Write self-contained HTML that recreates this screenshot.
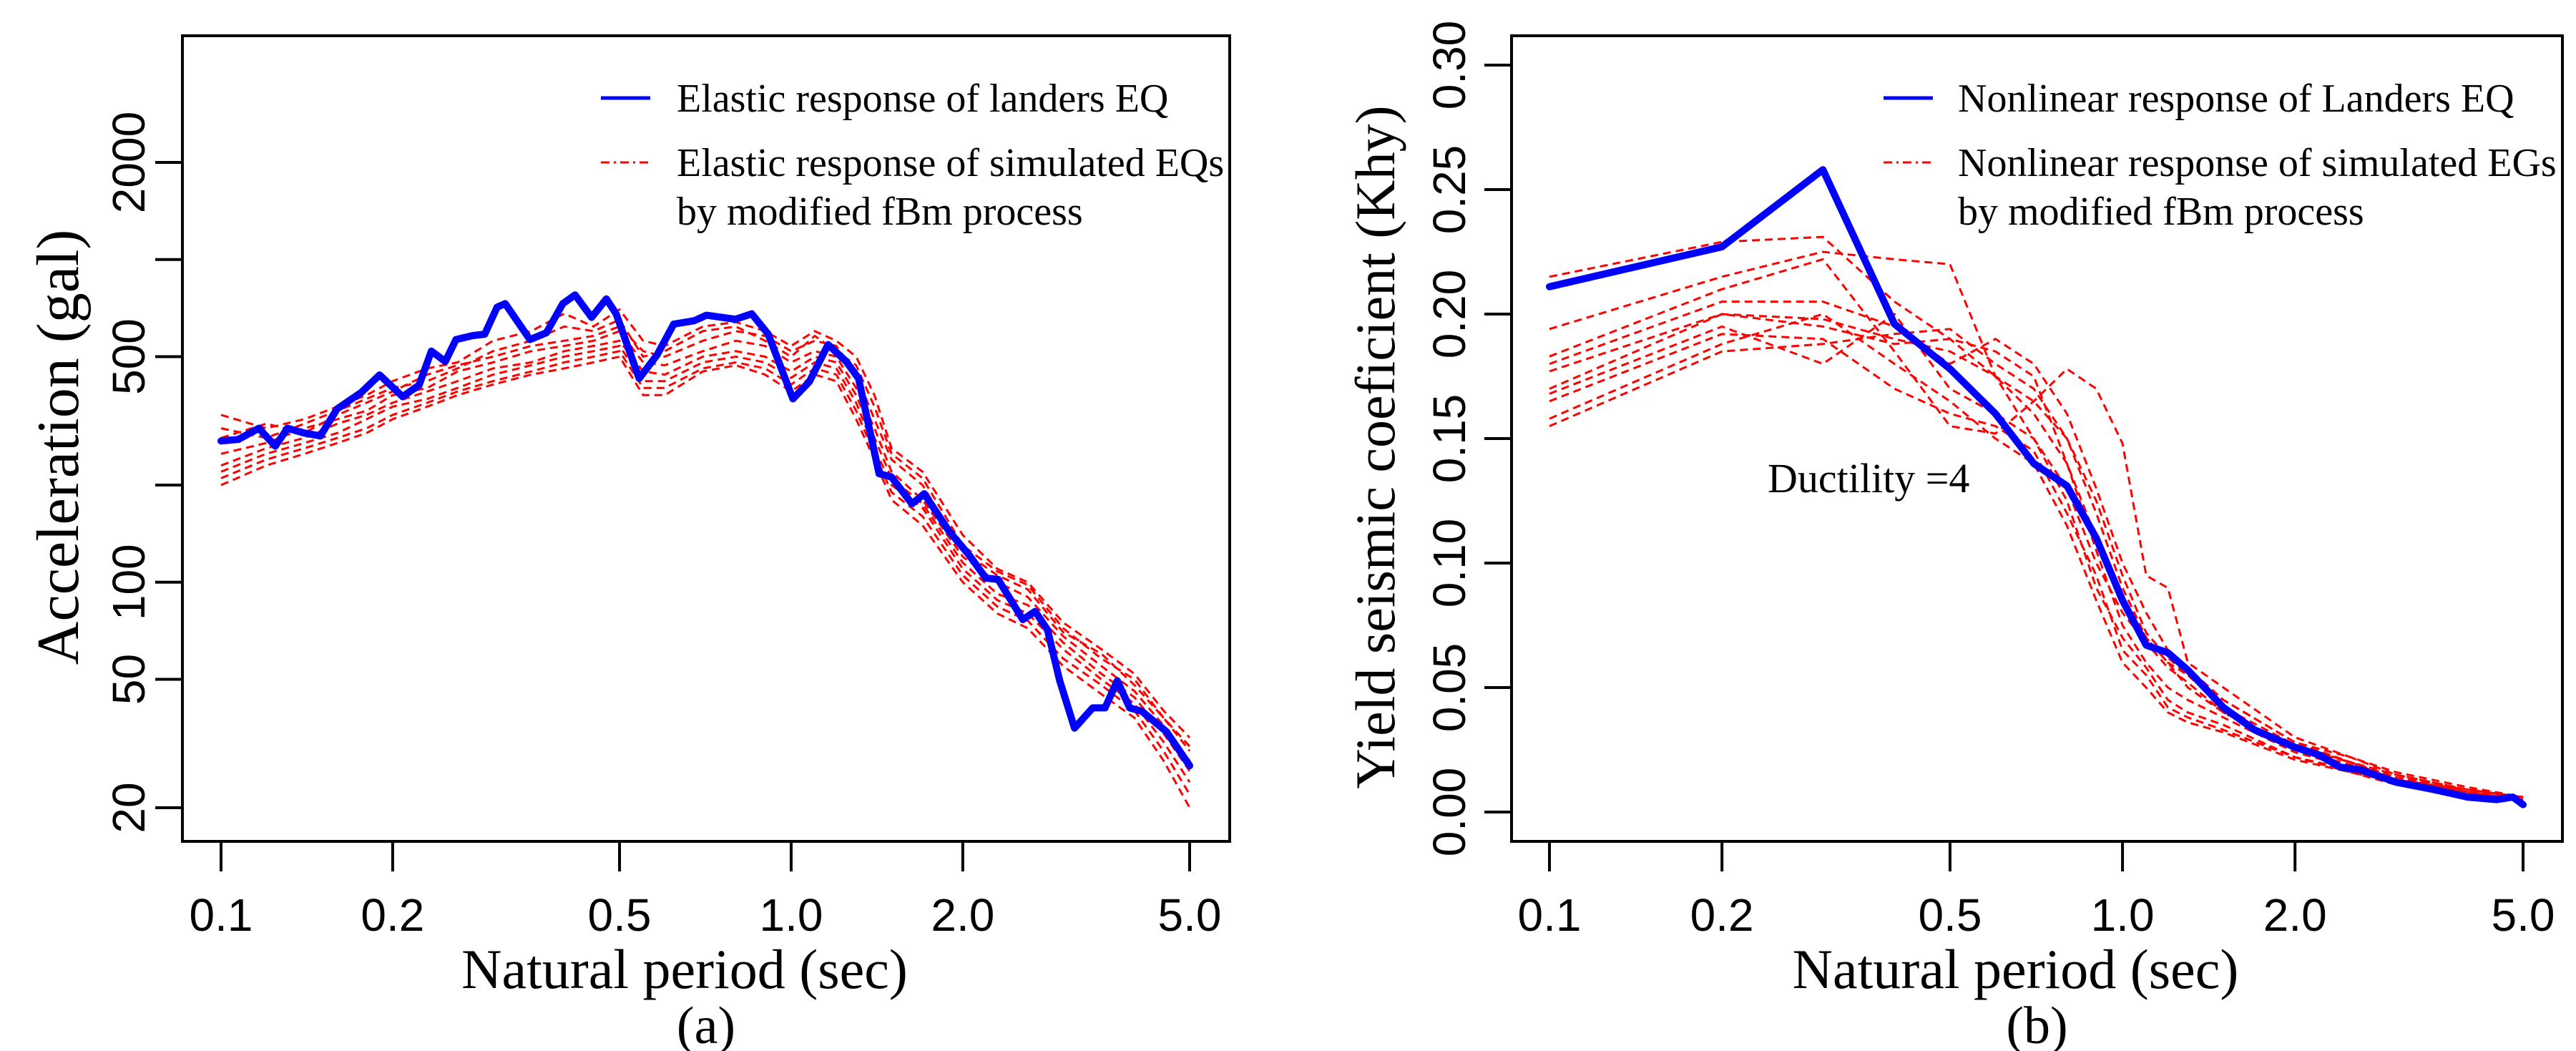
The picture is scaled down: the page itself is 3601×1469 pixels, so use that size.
<!DOCTYPE html>
<html><head><meta charset="utf-8"><style>
html,body{margin:0;padding:0;background:#fff;}
svg{display:block;}
text{fill:#000;}
</style></head>
<body>
<svg id="fig" width="3601" height="1469" viewBox="0 0 3601 1469" xmlns="http://www.w3.org/2000/svg">
<rect x="0" y="0" width="3601" height="1469" fill="#fff"/>
<g id="pa"></g>
<g id="pb"></g>
</svg>
<script>
// ---------- Panel (a) data ----------
const xTicks = [0.1, 0.2, 0.5, 1.0, 2.0, 5.0];
const xTickLabels = ["0.1", "0.2", "0.5", "1.0", "2.0", "5.0"];
const aYTicks = [20, 50, 100, 200, 500, 1000, 2000];
const aYTickLabels = ["20", "50", "100", "", "500", "", "2000"];
const aBluePeriod = [0.100,0.1072,0.1165,0.1245,0.1308,0.1398,0.1494,0.1597,0.1764,0.1897,0.2082,0.2225,0.2338,0.2474,0.2583,0.2760,0.2901,0.3049,0.3151,0.3482,0.3721,0.3976,0.4178,0.4467,0.4741,0.4932,0.5412,0.5822,0.6224,0.6760,0.7104,0.7980,0.8529,0.9115,1.007,1.076,1.161,1.249,1.313,1.426,1.499,1.629,1.712,1.891,2.055,2.195,2.307,2.549,2.679,2.816,2.959,3.141,3.380,3.552,3.733,3.925,4.124,4.555,5.0];
const aBlueAccel = [274,277,300,264,300,290,284,344,388,439,376,408,520,483,565,581,587,712,730,565,593,730,777,662,755,679,428,507,631,646,672,653,679,587,370,418,545,483,428,217,212,175,188,144,121,103,102,76.6,81.2,71.2,49.5,35.3,40.8,40.8,49.5,40.8,39.8,34.4,27.0];
const aRedPeriod = [0.1,0.12,0.14,0.16,0.18,0.2,0.23,0.26,0.3,0.35,0.4,0.45,0.5,0.55,0.6,0.7,0.8,0.9,1.0,1.1,1.2,1.3,1.4,1.5,1.7,2.0,2.3,2.6,3.0,3.5,4.0,4.5,5.0];
const aRed1 = [330,300,320,350,380,420,460,480,560,600,680,620,700,560,540,620,640,600,540,600,560,500,380,260,220,140,110,100,75,62,52,40,33];
const aRed2 = [280,310,290,330,360,390,440,470,500,540,560,580,620,520,500,560,600,580,520,560,540,440,320,240,200,125,105,95,70,60,48,38,30];
const aRed3 = [250,270,300,320,340,380,400,450,480,520,540,560,600,480,470,520,560,540,480,520,500,400,300,220,180,120,100,90,68,55,46,36,28];
const aRed4 = [230,260,280,310,330,360,390,420,460,480,520,540,560,450,440,500,520,500,450,500,480,380,280,210,175,115,92,85,65,52,44,34,26];
const aRed5 = [220,250,270,290,320,350,370,400,440,470,500,520,540,420,420,480,500,480,430,480,460,360,260,200,170,110,88,80,62,50,42,32,24];
const aRed6 = [210,240,260,280,300,330,360,390,420,450,480,500,520,400,400,460,480,460,410,460,440,340,250,190,160,105,84,76,58,48,40,30,22];
const aRed7 = [200,230,250,270,290,320,350,380,410,440,460,480,500,380,380,450,470,440,390,440,420,320,240,180,150,100,80,72,55,45,38,28,20];
const aRed8 = [300,280,310,340,370,400,420,460,520,560,620,600,650,500,520,600,620,560,500,580,520,470,350,250,210,130,108,98,72,58,50,38,31];

// ---------- Panel (b) data ----------
const bYTicks = [0.00, 0.05, 0.10, 0.15, 0.20, 0.25, 0.30];
const bYTickLabels = ["0.00", "0.05", "0.10", "0.15", "0.20", "0.25", "0.30"];
const bBluePeriod = [0.1,0.2,0.3,0.4,0.5,0.6,0.7,0.8,0.9,1.0,1.1,1.2,1.3,1.5,1.7,2.0,2.2,2.4,2.6,3.0,3.5,4.0,4.5,4.8,5.0];
const bBlueK = [0.211,0.227,0.258,0.196,0.178,0.160,0.140,0.131,0.110,0.085,0.067,0.064,0.057,0.042,0.033,0.026,0.023,0.018,0.017,0.012,0.009,0.006,0.005,0.006,0.003];
const bRedPeriod = [0.1,0.2,0.3,0.4,0.5,0.6,0.7,0.8,0.9,1.0,1.1,1.2,1.3,1.5,2.0,2.5,3.0,4.0,5.0];
const bRed1 = [0.215,0.229,0.231,0.205,0.190,0.175,0.160,0.140,0.110,0.085,0.070,0.060,0.055,0.045,0.028,0.020,0.014,0.009,0.006];
const bRed2 = [0.194,0.215,0.225,0.222,0.220,0.175,0.150,0.130,0.100,0.080,0.068,0.058,0.052,0.040,0.026,0.020,0.013,0.008,0.005];
const bRed3 = [0.183,0.210,0.222,0.185,0.155,0.152,0.165,0.178,0.170,0.148,0.095,0.090,0.060,0.050,0.030,0.022,0.016,0.010,0.006];
const bRed4 = [0.180,0.205,0.205,0.195,0.180,0.190,0.180,0.160,0.130,0.100,0.080,0.065,0.058,0.045,0.028,0.022,0.015,0.009,0.006];
const bRed5 = [0.177,0.200,0.198,0.190,0.185,0.175,0.165,0.150,0.120,0.090,0.070,0.060,0.050,0.040,0.025,0.019,0.014,0.008,0.005];
const bRed6 = [0.170,0.200,0.195,0.188,0.190,0.185,0.175,0.140,0.105,0.075,0.060,0.050,0.045,0.038,0.024,0.018,0.013,0.009,0.006];
const bRed7 = [0.168,0.195,0.180,0.200,0.170,0.160,0.150,0.125,0.090,0.070,0.058,0.045,0.040,0.035,0.022,0.017,0.012,0.008,0.006];
const bRed8 = [0.165,0.192,0.190,0.170,0.160,0.155,0.145,0.120,0.095,0.065,0.055,0.042,0.038,0.033,0.022,0.016,0.012,0.008,0.005];
const bRed9 = [0.158,0.188,0.200,0.180,0.165,0.150,0.140,0.115,0.085,0.060,0.050,0.040,0.036,0.032,0.021,0.016,0.011,0.007,0.005];
const bRed10 = [0.155,0.185,0.188,0.192,0.194,0.180,0.170,0.150,0.125,0.095,0.072,0.062,0.055,0.042,0.027,0.020,0.015,0.009,0.006];

const NS = "http://www.w3.org/2000/svg";
function mk(parent, tag, attrs, txt) {
  const e = document.createElementNS(NS, tag);
  for (const k in attrs) e.setAttribute(k, attrs[k]);
  if (txt !== undefined) e.textContent = txt;
  parent.appendChild(e);
  return e;
}
const SANS = '"Liberation Sans", Arial, sans-serif';
const SERIF = '"Liberation Serif", "Times New Roman", serif';

function logScale(d0, d1, r0, r1) {
  const l0 = Math.log10(d0), l1 = Math.log10(d1);
  return v => r0 + (Math.log10(v) - l0) / (l1 - l0) * (r1 - r0);
}
function linScale(d0, d1, r0, r1) {
  return v => r0 + (v - d0) / (d1 - d0) * (r1 - r0);
}
function pathD(xs, ys, sx, sy) {
  return xs.map((v, i) => (i ? "L" : "M") + sx(v).toFixed(1) + "," + sy(ys[i]).toFixed(1)).join(" ");
}

function drawPanel(g, box, sx, sy, yTicks, yLabels, yLabelX, yTitle, yTitleX, yTitleSize, panelLabel, redX, redSeries, blueX, blueY) {
  redSeries.forEach((s, i) => {
    const p = mk(g, "path", {d: pathD(redX, s, sx, sy), fill: "none", stroke: "#ff0000", "stroke-width": 3, "stroke-dasharray": "11,7"});
    
    
  });
  const b = mk(g, "path", {d: pathD(blueX, blueY, sx, sy), fill: "none", stroke: "#0000ff", "stroke-width": 10, "stroke-linejoin": "round", "stroke-linecap": "round"});
  
  
  const r = mk(g, "rect", {x: box.l, y: box.t, width: box.r - box.l, height: box.b - box.t, fill: "none", stroke: "#000", "stroke-width": 4});
  
  
  xTicks.forEach((v, i) => {
    const x = sx(v);
    const t = mk(g, "line", {x1: x, x2: x, y1: box.b, y2: box.b + 42, stroke: "#000", "stroke-width": 4});
    
    
    const tl = mk(g, "text", {x: x, y: box.b + 125, "font-family": SANS, "font-size": 64, "text-anchor": "middle"}, xTickLabels[i]);
    
    
  });
  yTicks.forEach((v, i) => {
    const y = sy(v);
    const t = mk(g, "line", {x1: box.l - 38, x2: box.l, y1: y, y2: y, stroke: "#000", "stroke-width": 4});
    
    
    if (yLabels[i]) {
      const tl = mk(g, "text", {x: 0, y: 0, "font-family": SANS, "font-size": 64, "text-anchor": "middle", transform: "translate(" + (yLabelX + 23) + "," + y + ") rotate(-90)"}, yLabels[i]);
      
      
    }
  });
  const cx = (box.l + box.r) / 2;
  const xt = mk(g, "text", {x: cx - 30, y: 1381, "font-family": SERIF, "font-size": 78, "text-anchor": "middle"}, "Natural period (sec)");
  
  
  const pl = mk(g, "text", {x: cx, y: 1458, "font-family": SERIF, "font-size": 74, "text-anchor": "middle"}, panelLabel);
  
  
  const yt = mk(g, "text", {x: 0, y: 0, "font-family": SERIF, "font-size": yTitleSize, "text-anchor": "middle", transform: "translate(" + (yTitleX + 28) + "," + ((box.t + box.b) / 2 + 12) + ") rotate(-90)"}, yTitle);
  
  
}

function drawLegend(g, lx, tx, y1, lines) {
  const l1 = mk(g, "line", {x1: lx, x2: lx + 69, y1: y1, y2: y1, stroke: "#0000ff", "stroke-width": 5});
  
  
  const l2 = mk(g, "line", {x1: lx, x2: lx + 69, y1: y1 + 90, y2: y1 + 90, stroke: "#ff0000", "stroke-width": 3, "stroke-dasharray": "12,6,3,6"});
  
  
  [[y1, lines[0]], [y1 + 90, lines[1]], [y1 + 158, lines[2]]].forEach(([y, s]) => {
    const t = mk(g, "text", {x: tx, y: y + 19, "font-family": SERIF, "font-size": 56}, s);
    
    
  });
}

const boxA = {l: 255, r: 1719, t: 50, b: 1176};
const sxA = logScale(0.1, 5.0, 309, 1663);
const syA = logScale(20, 2000, 1129, 227);
drawPanel(document.getElementById("pa"), boxA, sxA, syA, aYTicks, aYTickLabels, 179,
  "Acceleration (gal)", 81, 84, "(a)", aRedPeriod,
  [aRed1, aRed2, aRed3, aRed4, aRed5, aRed6, aRed7, aRed8], aBluePeriod, aBlueAccel);
drawLegend(document.getElementById("pa"), 840, 946, 137,
  ["Elastic response of landers EQ", "Elastic response of simulated EQs", "by modified fBm process"]);

const boxB = {l: 2113, r: 3582, t: 50, b: 1176};
const sxB = logScale(0.1, 5.0, 2166, 3527);
const syB = linScale(0, 0.30, 1135, 91);
drawPanel(document.getElementById("pb"), boxB, sxB, syB, bYTicks, bYTickLabels, 2025,
  "Yield seismic coeficient (Khy)", 1921, 78, "(b)", bRedPeriod,
  [bRed1, bRed2, bRed3, bRed4, bRed5, bRed6, bRed7, bRed8, bRed9, bRed10], bBluePeriod, bBlueK);
drawLegend(document.getElementById("pb"), 2633, 2737, 137,
  ["Nonlinear response of Landers EQ", "Nonlinear response of simulated EGs", "by modified fBm process"]);
const duct = mk(document.getElementById("pb"), "text", {x: 2471, y: 688, "font-family": SERIF, "font-size": 58}, "Ductility =4");


</script>
</body></html>
